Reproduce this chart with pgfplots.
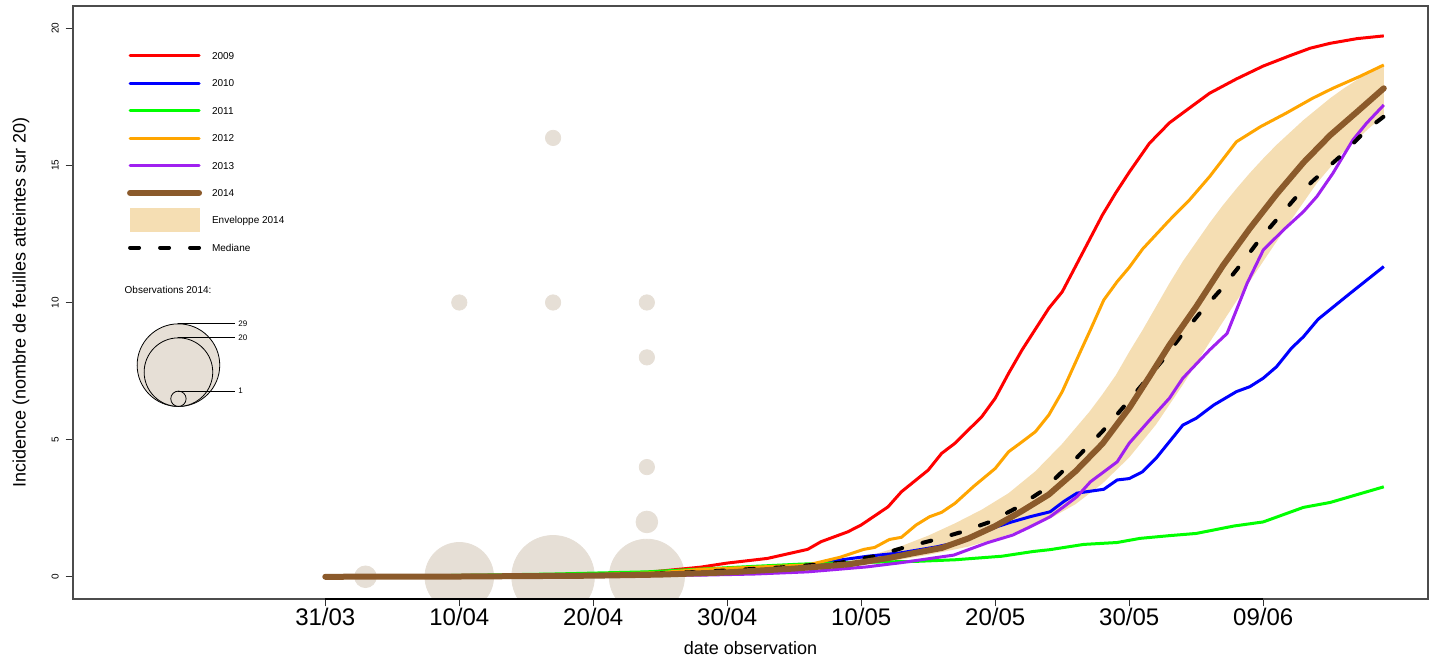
\documentclass[border=0pt]{standalone}
\usepackage{fontspec}
\setmainfont{Liberation Sans}
\usepackage{pgfplots}
\pgfplotsset{compat=1.18}
\definecolor{c09}{HTML}{FF0000}
\definecolor{c10}{HTML}{0000FF}
\definecolor{c11}{HTML}{00FF00}
\definecolor{c12}{HTML}{FFA500}
\definecolor{c13}{HTML}{A020F0}
\definecolor{c14}{HTML}{8B5A2B}
\definecolor{wheat}{HTML}{F5DEB3}
\definecolor{bub}{HTML}{E6DFD6}
\begin{document}
\begin{tikzpicture}
\begin{axis}[name=ax, clip marker paths=true, width=677.5pt, height=296.5pt, scale only axis,
  xmin=-18.83, xmax=82.3, ymin=-0.81, ymax=20.81,
  axis line style={black!70, line width=0.6pt},
  tick pos=left, tick align=outside, major tick length=3.7pt,
  every tick/.style={black!80, line width=0.6pt},
  xtick={0,10,20,30,40,50,60,70},
  xticklabels={31/03,10/04,20/04,30/04,10/05,20/05,30/05,09/06},
  ytick={0,5,10,15,20},
  /pgf/number format/assume math mode=true,
  xticklabel style={font=\fontsize{12}{14}\selectfont, anchor=base},
  xticklabel shift=9.5pt,
  yticklabel style={font=\fontsize{5}{6}\selectfont, rotate=90, anchor=base},
  yticklabel shift=3.5pt,
  xlabel={date observation},
  ylabel={Incidence (nombre de feuilles atteintes sur 20)},
  label style={font=\fontsize{9}{11}\selectfont},
  xlabel style={at={(axis description cs:0.5,-0.0826)}, anchor=center},
  ylabel style={at={(axis description cs:-0.0384,0.5)}, anchor=center},
  legend style={at={(0.0399,0.939)}, anchor=north west, draw=none, fill=none,
    inner sep=0pt, outer sep=0pt, font=\fontsize{5}{6}\selectfont,
    row sep=0pt, column sep=5pt,
    nodes={inner sep=0pt, text height=8.65pt, text depth=5.05pt, anchor=base west}},
  legend cell align=left,
  legend image code/.code={\draw[#1, line cap=round] (0pt,1.8pt) -- (34.5pt,1.8pt);},
]
% envelope 2014
\addplot[forget plot, fill=wheat, draw=none] coordinates {
(0,0) (20,0.05) (30,0.2) (35,0.33) (39,0.55) (41,0.82) (43,1.12) (45,1.5) (47,1.95)
(49,2.45) (51,3.05) (53,3.85) (55,4.85) (57,6.0) (58,6.65) (59,7.35) (60,8.2) (61,9.0)
(62,9.85) (63,10.7) (64,11.5) (65,12.2) (66,12.9) (67,13.55) (68,14.15) (69,14.72)
(70,15.25) (71,15.75) (72,16.2) (73,16.65) (74,17.05) (75,17.45) (76,17.8) (77,18.12)
(78,18.4) (79,18.66)
(79,16.8) (78,16.4) (76,15.5) (74,14.35) (72,12.95) (70,11.5) (68,10.05) (66,8.55)
(64,7.0) (62,5.55) (60,4.35) (58,3.4) (56,2.65) (54,2.1) (52,1.7) (50,1.38) (48,1.1)
(45,0.8) (42,0.55) (39,0.36) (35,0.2) (30,0.1) (20,0.02) (0,0)
} -- cycle;
% observations 2014
\addplot[forget plot, scatter, only marks, mark=*,
  scatter/use mapped color={draw=bub, fill=bub},
  visualization depends on={3.835*sqrt(\thisrow{n}) \as \rad},
  scatter/@pre marker code/.append style={/tikz/mark size=\rad}]
table {
x y n
3 0 2
10 0 20
10 10 1
17 0 29
17 10 1
17 16 1
24 0 24
24 2 2
24 4 1
24 8 1
24 10 1
};
% size legend circles
\addplot[forget plot, scatter, only marks, mark=*,
  scatter/use mapped color={draw=black, fill=bub, line width=0.4pt},
  visualization depends on={3.835*sqrt(\thisrow{n}) \as \rad},
  scatter/@pre marker code/.append style={/tikz/mark size=\rad}]
table {
x y n
-10.96 7.716 29
-10.96 7.461 20
-10.96 6.490 1
};
\addplot[forget plot, black, line width=0.4pt] coordinates {(-10.96,9.222) (-6.74,9.222)};
\addplot[forget plot, black, line width=0.4pt] coordinates {(-10.96,8.712) (-6.74,8.712)};
\addplot[forget plot, black, line width=0.4pt] coordinates {(-10.96,6.770) (-6.74,6.770)};
\node[anchor=west, inner sep=0pt, font=\fontsize{4}{5}\selectfont] at (axis cs:-6.51,9.222) {29};
\node[anchor=west, inner sep=0pt, font=\fontsize{4}{5}\selectfont] at (axis cs:-6.51,8.712) {20};
\node[anchor=west, inner sep=0pt, font=\fontsize{4}{5}\selectfont] at (axis cs:-6.51,6.770) {1};
\node[anchor=west, inner sep=0pt, font=\fontsize{5}{6}\selectfont] at (axis cs:-15.0,10.46) {Observations 2014:};
% 2009
\addplot[forget plot, c09, line width=1.5pt, line join=round] coordinates {
(0,0) (5,0.01) (10,0.03) (15,0.06) (20,0.1) (24,0.16) (28,0.35) (30,0.5) (33,0.67)
(36,1.0) (37,1.28) (39,1.64) (40,1.89) (42,2.55) (43,3.1) (45,3.89) (46,4.5) (47,4.87)
(49,5.84) (50,6.51) (51,7.42) (52,8.27) (54,9.79) (55,10.39) (56.5,11.79) (58,13.19)
(59,14.0) (60,14.75) (61.5,15.8) (63,16.55) (64.3,17.02) (66,17.63) (68,18.15)
(70,18.62) (72,19.0) (73.5,19.27) (75,19.45) (77,19.62) (79,19.72)};
% 2010
\addplot[forget plot, c10, line width=1.5pt, line join=round] coordinates {
(0,0) (10,0.02) (20,0.06) (25,0.12) (30,0.25) (34,0.38) (36.2,0.45) (38.4,0.61)
(40.5,0.75) (42.9,0.87) (45.6,1.09) (47.4,1.28) (49.1,1.62) (50.1,1.82) (51.1,1.98)
(52.6,2.19) (54.1,2.37) (55.1,2.74) (56.1,3.05) (58.1,3.19) (59.1,3.53) (60,3.58)
(61,3.83) (62,4.32) (64,5.53) (65,5.78) (66.3,6.26) (68,6.75) (69,6.93) (70,7.24)
(71,7.66) (72.1,8.33) (73,8.75) (74.1,9.39) (76.5,10.34) (79,11.31)};
% 2011
\addplot[forget plot, c11, line width=1.5pt, line join=round] coordinates {
(0,0) (10,0.05) (17,0.1) (24,0.18) (28,0.28) (32,0.38) (35.4,0.46) (39,0.52) (44,0.56)
(47,0.62) (50.5,0.75) (52.8,0.92) (54.1,0.99) (56.6,1.18) (59.1,1.25) (60.8,1.4)
(63,1.5) (65,1.58) (67.8,1.85) (70,2.0) (73,2.53) (75,2.71) (79,3.28)};
% 2012
\addplot[forget plot, c12, line width=1.5pt, line join=round] coordinates {
(0,0) (10,0.02) (20,0.08) (25,0.15) (28,0.27) (32,0.35) (36,0.43) (38.4,0.71) (40.2,1.0)
(41,1.07) (42.1,1.36) (43,1.44) (44.1,1.89) (45.1,2.19) (46,2.35) (47,2.68) (48.4,3.3)
(50,3.95) (51,4.56) (52,4.92) (53,5.29) (54,5.9) (55,6.75) (56.3,8.15) (57.1,9.0)
(58.1,10.09) (59.1,10.76) (60,11.28) (61,11.95) (63,13.0) (64.5,13.74) (66,14.59)
(68,15.86) (69.8,16.41) (71.7,16.9) (73.7,17.45) (75.2,17.81) (77.2,18.24) (79,18.66)};
% 2013
\addplot[forget plot, c13, line width=1.5pt, line join=round] coordinates {
(0,0) (10,0.01) (20,0.03) (28,0.06) (32,0.1) (36,0.18) (40.4,0.36) (42.9,0.51)
(46.9,0.79) (49.4,1.24) (51.3,1.52) (52.6,1.82) (54.1,2.19) (55.1,2.55) (56.1,2.92)
(57.1,3.46) (59.1,4.19) (60,4.87) (61.5,5.7) (63,6.51) (64,7.24) (66,8.27) (67.3,8.87)
(68.3,10.09) (68.8,10.7) (70,11.91) (71.5,12.64) (73,13.31) (74,13.86) (75.2,14.71)
(76.7,15.93) (77.7,16.53) (79,17.2)};
% median
\addplot[forget plot, black, line width=2pt, line cap=round, dash pattern=on 4.5pt off 10.5pt] coordinates {
(0,0) (10,0.02) (20,0.06) (25,0.12) (28,0.18) (34,0.34) (38.4,0.51) (41,0.75) (43,1.04)
(45.4,1.34) (47.4,1.62) (49.6,2.0) (51.5,2.49) (53.5,3.13) (56,4.3) (58,5.3) (59.8,6.32)
(62.5,7.9) (63.9,8.8) (65.3,9.63) (66.8,10.45) (68.3,11.37) (69.8,12.34) (71.3,13.19)
(72.7,13.98) (74.2,14.65) (76,15.44) (77.7,16.29) (79,16.78)};
% 2014
\addplot[forget plot, c14, line width=3pt, line cap=round, line join=round] coordinates {
(0,0) (10,0.01) (20,0.04) (25,0.08) (30,0.16) (35,0.3) (39,0.45) (42,0.68) (44,0.87)
(46,1.05) (48,1.4) (50,1.85) (52,2.4) (54,3.0) (56,3.85) (58,4.85) (60,6.15) (61.5,7.29)
(63,8.45) (65,9.85) (67,11.35) (69,12.7) (71,13.95) (73,15.1) (75,16.1) (77,16.95)
(79,17.81)};
% legend
\addlegendimage{c09, line width=1.5pt}
\addlegendentry{2009}
\addlegendimage{c10, line width=1.5pt}
\addlegendentry{2010}
\addlegendimage{c11, line width=1.5pt}
\addlegendentry{2011}
\addlegendimage{c12, line width=1.5pt}
\addlegendentry{2012}
\addlegendimage{c13, line width=1.5pt}
\addlegendentry{2013}
\addlegendimage{c14, line width=3pt}
\addlegendentry{2014}
\addlegendimage{legend image code/.code={\fill[wheat] (0pt,-3.95pt) rectangle (34.5pt,7.55pt);}}
\addlegendentry{Enveloppe 2014}
\addlegendimage{black, line width=2pt, dash pattern=on 4.5pt off 10.5pt}
\addlegendentry{Mediane}
\draw[black, line width=1pt] (axis cs:0,-0.81) -- (axis cs:70,-0.81);
\end{axis}
\path ([xshift=-36.5pt,yshift=-30.5pt]ax.south west) rectangle ([xshift=0.5pt,yshift=3pt]ax.north east);
\end{tikzpicture}
\end{document}
